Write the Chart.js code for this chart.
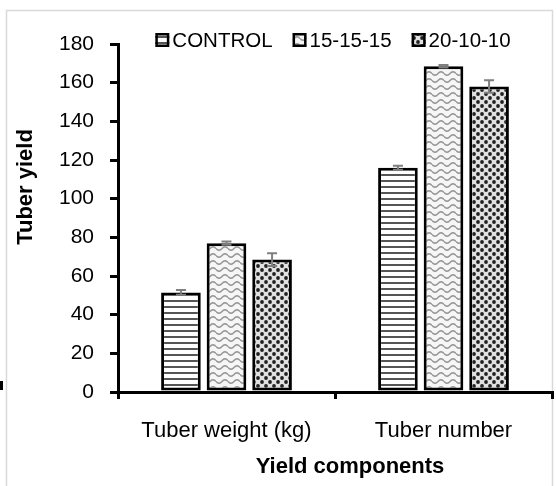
<!DOCTYPE html>
<html>
<head>
<meta charset="utf-8">
<script src="https://cdn.jsdelivr.net/npm/chart.js@4"></script>
<style>
  body { margin: 0; background: #fff; }
  canvas { display: block; }
</style>
</head>
<body>
<canvas id="chart" width="556" height="486"></canvas>
<script>
const categories = ['Tuber weight (kg)', 'Tuber number'];
const seriesNames = ['CONTROL', '15-15-15', '20-10-10'];
const controlValues = [51.5, 116];
const npk151515Values = [77, 168.5];
const npk201010Values = [68.5, 158];
const controlErrors = [1.2, 1];
const npk151515Errors = [0.8, 0.6];
const npk201010Errors = [3.3, 3.2];
const yTicks = [0, 20, 40, 60, 80, 100, 120, 140, 160, 180];

const FONT = '"Liberation Sans", Arial, sans-serif';

// --- fill patterns ---
function makePattern(w, h, draw) {
    const c = document.createElement('canvas'); c.width = w; c.height = h;
    const g = c.getContext('2d'); draw(g, w, h);
    return document.getElementById('chart').getContext('2d').createPattern(c, 'repeat');
}
const stripes = makePattern(6, 6, (g, w, h) => {
    g.fillStyle = '#fff'; g.fillRect(0, 0, w, h);
    g.fillStyle = '#555'; g.fillRect(0, 0, w, 2);
});
const waves = makePattern(12, 7, (g, w, h) => {
    g.fillStyle = '#f6f6f6'; g.fillRect(0, 0, w, h);
    g.strokeStyle = '#959595'; g.lineWidth = 1.5; g.beginPath();
    for (let x = 0; x <= w; x++) {
        const y = 3.5 + 1.8 * Math.sin(x / w * Math.PI * 2);
        x === 0 ? g.moveTo(x, y) : g.lineTo(x, y);
    }
    g.stroke();
});
const dots = makePattern(8, 8, (g, w, h) => {
    g.fillStyle = '#e2e2e2'; g.fillRect(0, 0, w, h);
    g.fillStyle = '#222';
    [[2, 2], [6, 6]].forEach(([x, y]) => { g.beginPath(); g.arc(x, y, 1.9, 0, Math.PI * 2); g.fill(); });
});

const fills = [stripes, waves, dots];
const seriesValues = [controlValues, npk151515Values, npk201010Values];
const seriesErrors = [controlErrors, npk151515Errors, npk201010Errors];

// --- plugins ---
const framePlugin = {
    id: 'frame',
    beforeDraw(chart) {
        const ctx = chart.ctx;
        ctx.save();
        ctx.fillStyle = '#fff'; ctx.fillRect(0, 0, chart.width, chart.height);
        ctx.strokeStyle = '#d9d9d9'; ctx.lineWidth = 1.5;
        ctx.beginPath();
        ctx.moveTo(6.5, 486); ctx.lineTo(6.5, 10.5); ctx.lineTo(552.5, 10.5); ctx.lineTo(552.5, 486);
        ctx.stroke();
        ctx.fillStyle = '#000'; ctx.fillRect(0, 381, 3, 9);
        ctx.restore();
    }
};

const errorBars = {
    id: 'errorBars',
    afterDatasetsDraw(chart) {
        const ctx = chart.ctx, y = chart.scales.y;
        ctx.save();
        ctx.strokeStyle = '#7f7f7f'; ctx.lineWidth = 2;
        chart.data.datasets.forEach((ds, i) => {
            chart.getDatasetMeta(i).data.forEach((bar, j) => {
                const v = ds.data[j], e = seriesErrors[i][j];
                const top = y.getPixelForValue(v + e), bot = y.getPixelForValue(v - e);
                ctx.beginPath();
                ctx.moveTo(bar.x, top); ctx.lineTo(bar.x, bot);
                ctx.moveTo(bar.x - 5, top); ctx.lineTo(bar.x + 5, top);
                ctx.moveTo(bar.x - 5, bot); ctx.lineTo(bar.x + 5, bot);
                ctx.stroke();
            });
        });
        ctx.restore();
    }
};

const legendAndTitles = {
    id: 'legendAndTitles',
    afterDraw(chart) {
        const ctx = chart.ctx;
        ctx.save();
        // legend
        ctx.font = '20.5px ' + FONT;
        ctx.textBaseline = 'middle'; ctx.textAlign = 'left';
        const box = 14, gapText = 3, gapItem = 20;
        const widths = seriesNames.map(n => ctx.measureText(n).width);
        const total = widths.reduce((a, w) => a + box + gapText + w, 0) + gapItem * (seriesNames.length - 1);
        let x = 333 - total / 2;
        const cy = 40;
        seriesNames.forEach((n, i) => {
            ctx.fillStyle = fills[i];
            ctx.fillRect(x, cy - box / 2, box, box);
            ctx.strokeStyle = '#000'; ctx.lineWidth = 2.5;
            ctx.strokeRect(x + 1.25, cy - box / 2 + 1.25, box - 2.5, box - 2.5);
            ctx.fillStyle = '#000';
            ctx.fillText(n, x + box + gapText, cy + 1);
            x += box + gapText + widths[i] + gapItem;
        });
        // axis titles
        ctx.font = 'bold 22px ' + FONT;
        ctx.textAlign = 'center';
        ctx.fillText('Yield components', 350, 467);
        ctx.translate(26, 187); ctx.rotate(-Math.PI / 2);
        ctx.fillText('Tuber yield', 0, 0);
        ctx.restore();
    }
};

new Chart(document.getElementById('chart'), {
    type: 'bar',
    data: {
        labels: categories,
        datasets: seriesNames.map((name, i) => ({
            label: name,
            data: seriesValues[i],
            backgroundColor: fills[i],
            borderColor: '#000',
            borderWidth: 3,
            borderSkipped: false,
            categoryPercentage: 0.63,
            barPercentage: 0.87
        }))
    },
    options: {
        responsive: false,
        animation: false,
        layout: { padding: { top: 44, right: 4, left: 0, bottom: 0 } },
        plugins: { legend: { display: false }, tooltip: { enabled: false } },
        scales: {
            x: {
                grid: { display: true, drawOnChartArea: false, drawTicks: true, tickLength: 7, color: '#000', lineWidth: 3, offset: true },
                border: { color: '#000', width: 3 },
                ticks: { color: '#000', font: { size: 22, family: FONT }, padding: 19 },
                afterFit: s => { s.height = 94; }
            },
            y: {
                min: yTicks[0], max: yTicks[yTicks.length - 1],
                grid: { display: true, drawOnChartArea: false, drawTicks: true, tickLength: 8, color: '#000', lineWidth: 3 },
                border: { color: '#000', width: 3 },
                ticks: { color: '#000', font: { size: 21, family: FONT }, padding: 16, stepSize: yTicks[1] - yTicks[0] },
                afterFit: s => { s.width = 118; }
            }
        }
    },
    plugins: [framePlugin, errorBars, legendAndTitles]
});
</script>
</body>
</html>
